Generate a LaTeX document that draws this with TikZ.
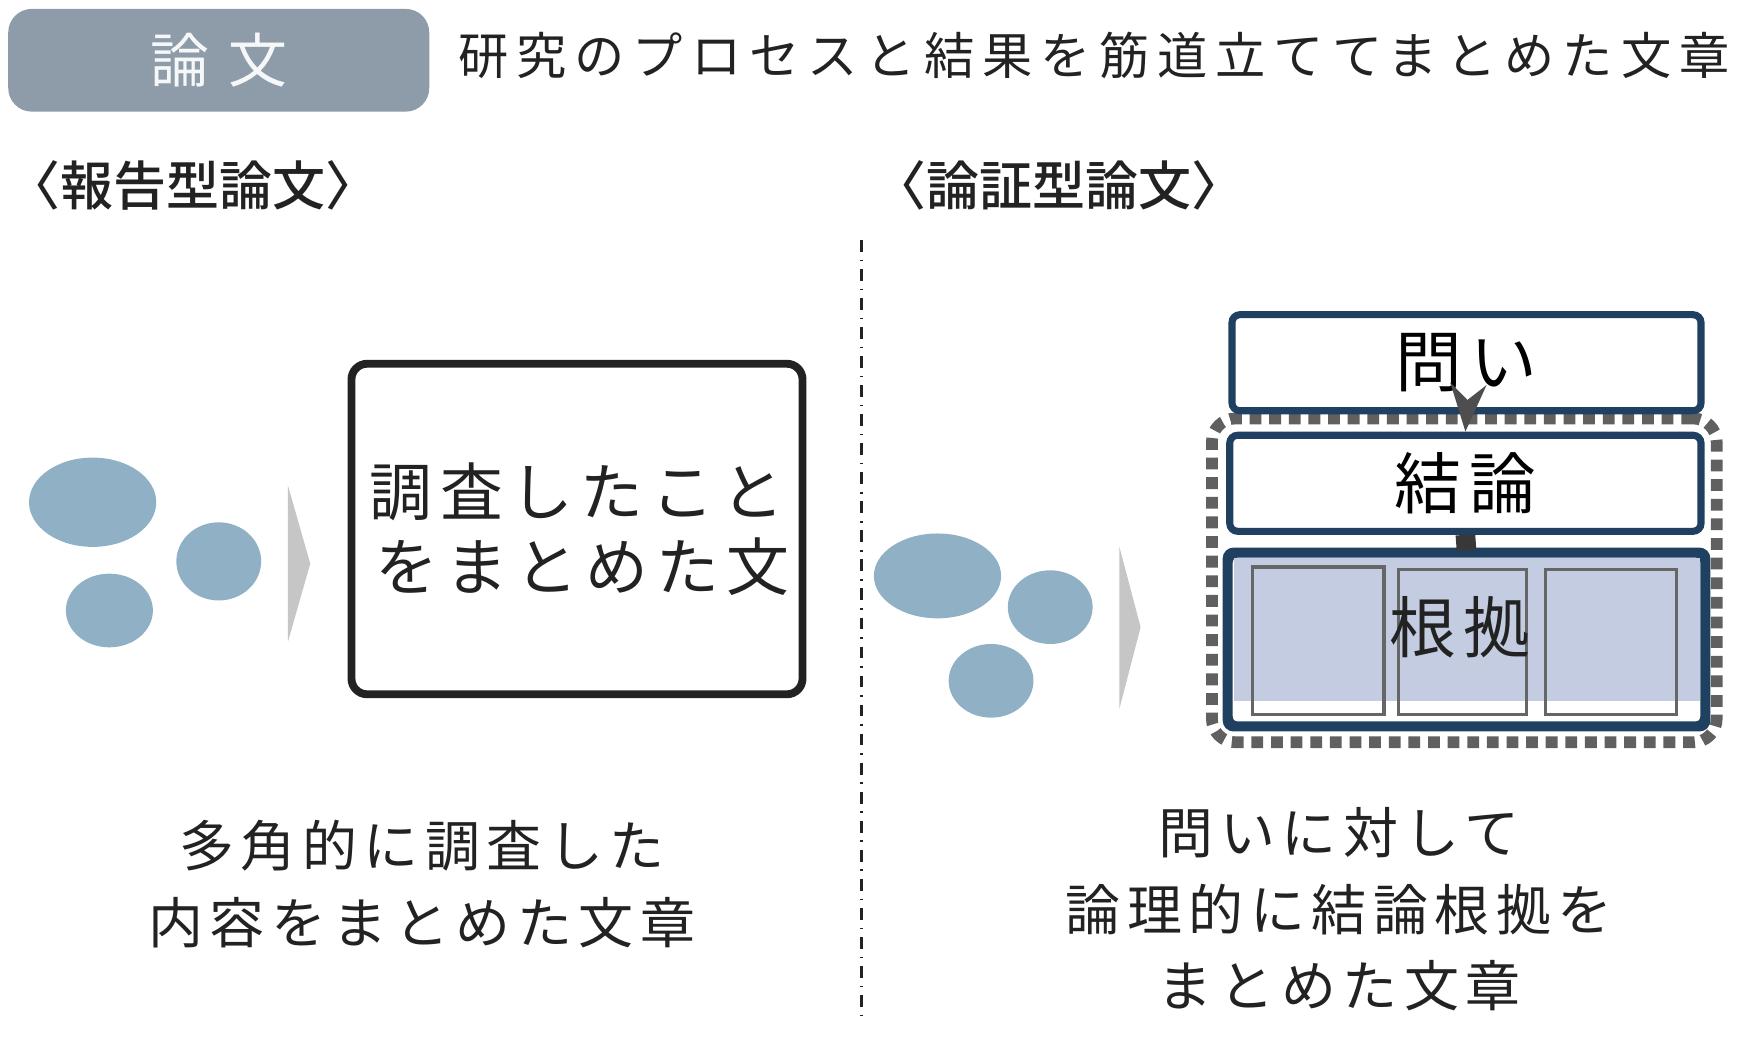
\documentclass[tikz,border=0pt]{standalone}
\usepackage{fontspec}
\setmainfont{Noto Sans CJK JP}
\newfontfamily\spaced[LetterSpace=16]{Noto Sans CJK JP}
\newfontfamily\wide[LetterSpace=12]{Noto Sans CJK JP}
\newfontfamily\heavy{Noto Sans CJK JP Medium}
\usepackage{tikz}
\usetikzlibrary{positioning,arrows.meta}
\definecolor{blob}{HTML}{8FB0C5}
\definecolor{navy}{HTML}{1F4060}
\definecolor{hdr}{HTML}{8E9BA8}
\definecolor{lav}{HTML}{C3CCE0}
\definecolor{ink}{HTML}{222222}
\tikzset{
  blobs/.style={fill=blob, draw=none},
  chevron/.style={fill=gray!45, draw=none},
  frame/.style={draw=navy, line width=1.8pt, rounded corners=2pt, fill=white},
  cell/.style={draw=gray!80!black, line width=0.8pt},
  caption/.style={text=ink, align=center, font=\wide\fontsize{14}{19.5}\selectfont},
  head/.style={text=ink, font=\heavy\fontsize{13.5}{16}\selectfont},
}
\begin{document}
\begin{tikzpicture}[x=0.01cm, y=-0.01cm, >=Stealth]
\useasboundingbox (0,0) rectangle (1568,930);

% header
\node [fill=hdr, rounded corners=6pt, minimum width=3.77cm, minimum height=0.92cm,
  text=white!92!hdr, font=\fontsize{15}{18}\selectfont] (hdr) at (196,54) {論\,\,文};
\node [text=ink, font=\spaced\fontsize{12.8}{14}\selectfont, anchor=west] (def) at (398,50)
  {研究のプロセスと結果を筋道立ててまとめた文章};

\node [head, anchor=west] (leftlbl) at (-6,166) {〈報告型論文〉};
\node [head, anchor=west] (rightlbl) at (770,166) {〈論証型論文〉};

\coordinate (sepa) at (772,215);
\coordinate (sepb) at (772,910);
\draw [dash dot, line width=0.8pt, ink] (sepa) -- (sepb);

% left side
\fill [blobs] (83,450) ellipse (57 and 40);
\fill [blobs] (196,503) ellipse (38 and 35);
\fill [blobs] (98,547) ellipse (39 and 33);
\fill [chevron] (258,435) -- (278,505) -- (258,575) -- cycle;

\node [draw=ink, line width=2pt, rounded corners=4pt, minimum width=3.98cm,
  minimum height=2.96cm, align=center, text=ink,
  font=\wide\fontsize{16}{19}\selectfont] (summary) at (517,474)
  {調査したこと\\\,をまとめた文};

\node [caption] (leftcap) at (378,792) {多角的に調査した\\内容をまとめた文章};

% right side
\fill [blobs] (840,516) ellipse (57 and 38);
\fill [blobs] (941,544) ellipse (38 and 33);
\fill [blobs] (888,610) ellipse (38 and 33);
\fill [chevron] (1003,490) -- (1022,562) -- (1003,635) -- cycle;

\node [draw=gray!75!black, line width=3pt, dotted, rounded corners=6pt,
  minimum width=4.52cm, minimum height=2.9cm] (group) at (1312,520) {};

\node [frame, minimum width=4.2cm, minimum height=0.86cm,
  font=\wide\fontsize{17}{20}\selectfont] (question) at (1314,325) {問い};
\node [frame, minimum width=4.22cm, minimum height=0.86cm,
  font=\wide\fontsize{17}{20}\selectfont] (conclusion) at (1313,433) {結論};
\node [frame, minimum width=4.25cm, minimum height=1.53cm] (evidence) at (1314,573) {};
\fill [lav] ([shift={(2pt,-2pt)}]evidence.north west) rectangle ([xshift=-2pt]evidence.east |- 0,628);
\draw [cell] (1122,508) rectangle (1240,640);
\draw [cell] (1253,510) rectangle (1368,640);
\draw [cell] (1385,510) rectangle (1502,640);
\draw [navy, line width=1.5pt, rounded corners=2pt] (evidence.north west) rectangle (evidence.south east);
\node [text=ink, font=\wide\fontsize{17}{20}\selectfont] (evlbl) at (1308,562) {根拠};

\draw [->, line width=2pt, ink!80] (question.south) -- (conclusion.north);
\draw [line width=5pt, ink!90] (conclusion.south) -- (evidence.north);

\node [caption] (rightcap) at (1200,815) {問いに対して\\論理的に結論根拠を\\まとめた文章};
\end{tikzpicture}
\end{document}
